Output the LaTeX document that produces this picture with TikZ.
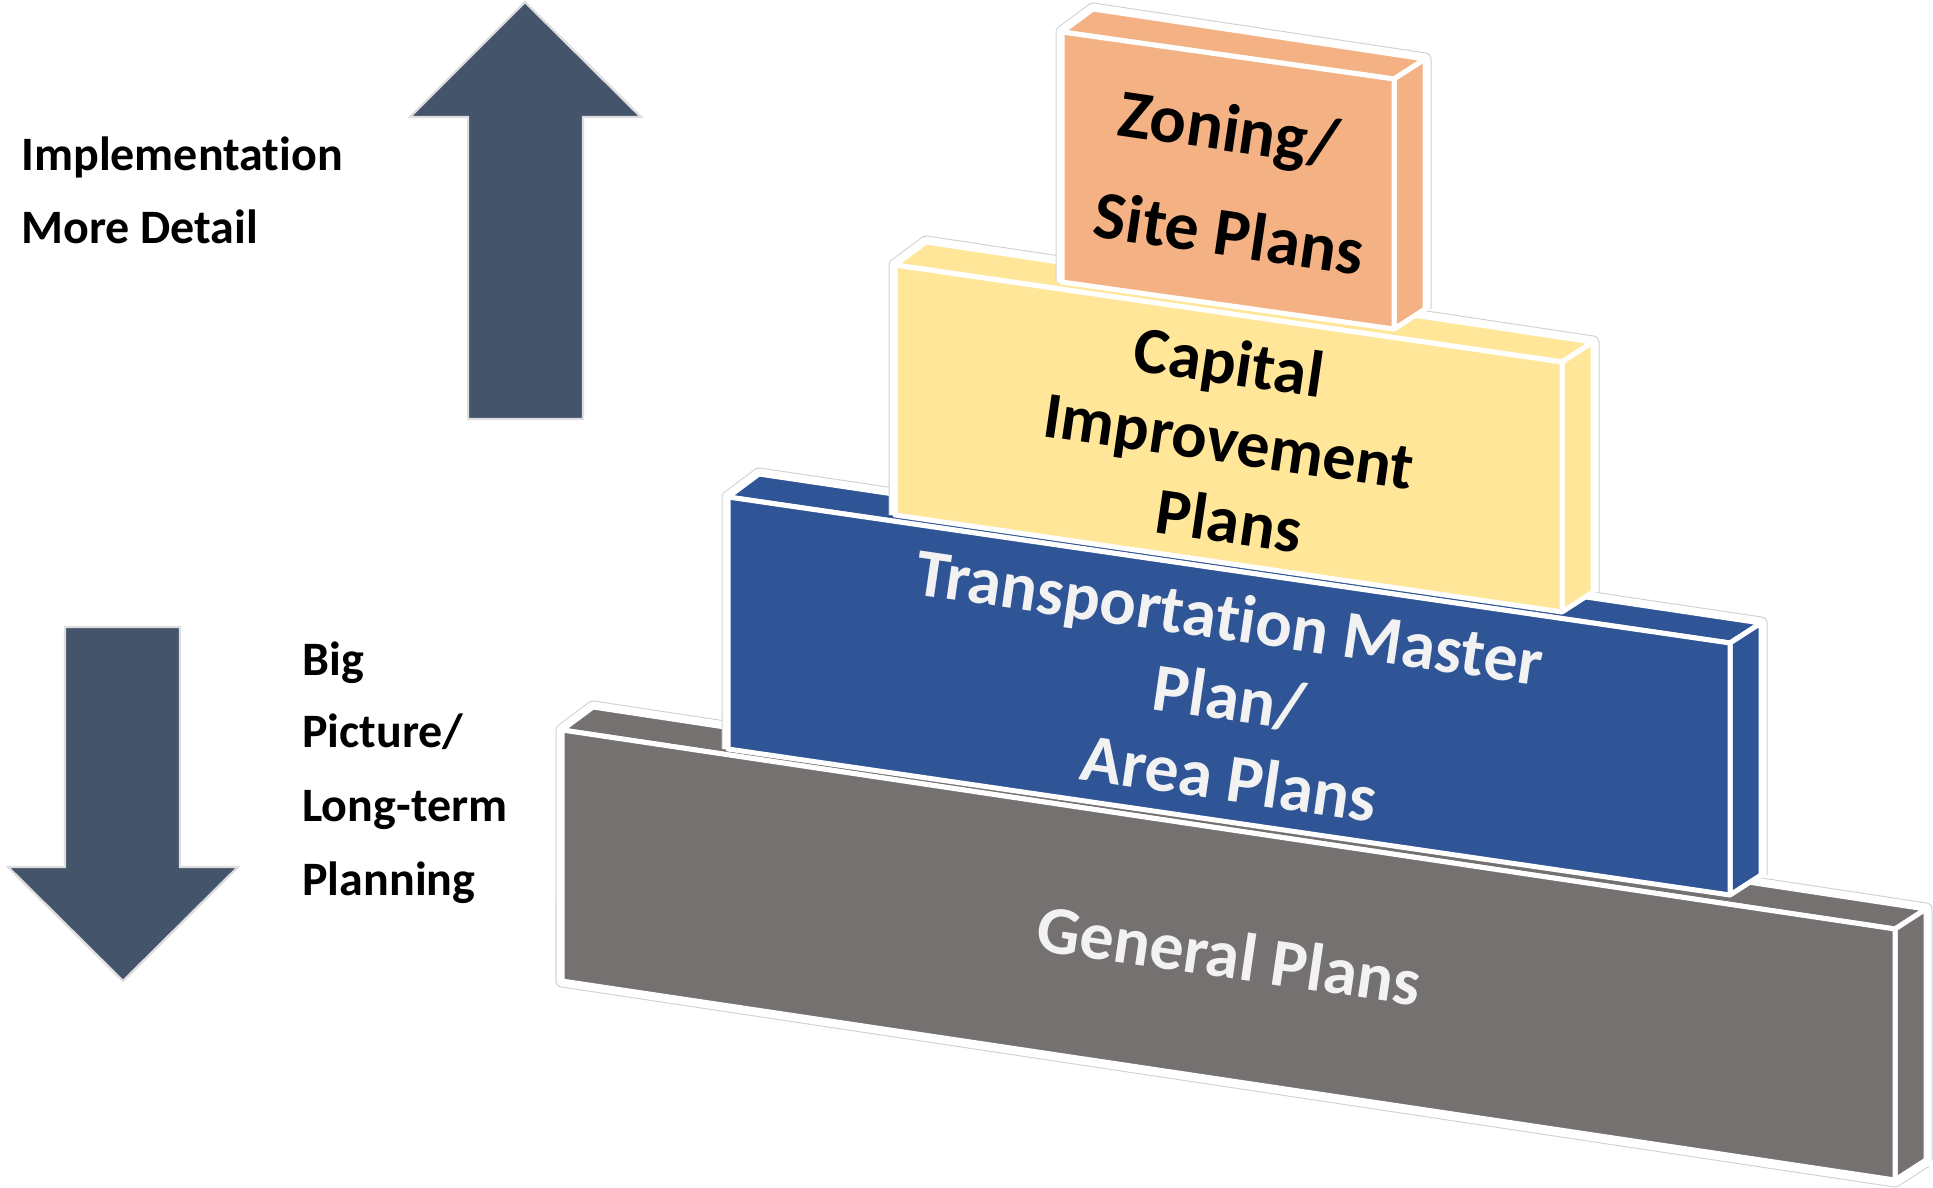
\documentclass[tikz,border=0pt]{standalone}
\usepackage{fontspec}
\setmainfont{Carlito}[Ligatures=NoCommon,RawFeature={-liga;-clig;-dlig}]
\definecolor{cOrange}{HTML}{F4B183}
\definecolor{cYellow}{HTML}{FFE699}
\definecolor{cBlue}{HTML}{2F5597}
\definecolor{cGray}{HTML}{767171}
\definecolor{cArrow}{HTML}{44546A}
\definecolor{cLight}{HTML}{F2F2F2}
\definecolor{cRim}{HTML}{D0D0D0}
\newcommand\slab[6]{% L R TL TR H color
  \draw[rimgray] (#1,#3+#5) -- (#1,#3) -- (#1+31,#3-23) -- (#2+31,#4-20) -- (#2+31,#4-20+#5);
  \draw[rimwhite] (#1,#3+#5) -- (#1,#3) -- (#1+31,#3-23) -- (#2+31,#4-20) -- (#2+31,#4-20+#5);
  \filldraw[face,fill=#6] (#1,#3) -- (#1+31,#3-23) -- (#2+31,#4-20) -- (#2,#4) -- cycle;
  \filldraw[face,fill=#6] (#2,#4) -- (#2+31,#4-20) -- (#2+31,#4-20+#5) -- (#2,#4+#5) -- cycle;
  \filldraw[face,fill=#6] (#1,#3) -- (#2,#4) -- (#2,#4+#5) -- (#1,#3+#5) -- cycle;
}
\begin{document}
\begin{tikzpicture}[x=0.5pt,y=-0.5pt,
  face/.style={draw=white, line width=2.5pt, line join=round},
  rimgray/.style={draw=cRim, line width=6.5pt, line join=round},
  rimwhite/.style={draw=white, line width=5.5pt, line join=round},
  sidetext/.style={font=\fontsize{24}{28}\selectfont\bfseries, anchor=base west, inner sep=0pt},
  blk/.style={anchor=base, inner sep=0pt, rotate=-8.3},
  arrowshape/.style={fill=cArrow, draw=black!13, line width=1.2pt, line join=miter}]
\useasboundingbox (0,0) rectangle (1933,1188);

% arrows
\draw[arrowshape] (525,2) -- (641,117) -- (583,117) -- (583,419) -- (468,419) -- (468,117) -- (410,117) -- cycle;
\draw[arrowshape] (65,627) -- (180,627) -- (180,867) -- (238,867) -- (123,981) -- (8,867) -- (65,867) -- cycle;

% side labels
\node[sidetext] (impl) at (21,170) {Implementation};
\node[sidetext] (more) at (21,243) {More Detail};
\node[sidetext] (big) at (302,675) {Big};
\node[sidetext] (pic) at (302,747) {Picture/};
\node[sidetext] (long) at (302,821) {Long-term};
\node[sidetext] (plan) at (302,895) {Planning};

% general plans slab (with bottom rim)
\draw[rimgray] (1926,1161) -- (1895,1181) -- (562,981) -- (562,900);
\draw[rimwhite] (1926,1161) -- (1895,1181) -- (562,981) -- (562,900);
\slab{562}{1895}{730}{929}{251}{cGray}
\slab{728}{1730}{497}{643}{252}{cBlue}
\slab{895}{1562}{265}{362}{250}{cYellow}
\slab{1062}{1394}{32}{79}{250}{cOrange}

% block texts
\node[blk, font=\fontsize{34}{40}\selectfont\bfseries] (zon) at (1226,151) {Zoning/};
\node[blk, font=\fontsize{34}{40}\selectfont\bfseries] (site) at (1226,256) {Site Plans};
\node[blk, font=\fontsize{33}{38}\selectfont\bfseries] (cap) at (1226,384) {Capital};
\node[blk, font=\fontsize{33}{38}\selectfont\bfseries] (imp) at (1226,463) {Improvement};
\node[blk, font=\fontsize{33}{38}\selectfont\bfseries] (cip) at (1226,543) {Plans};
\node[blk, text=cLight, font=\fontsize{34}{40}\selectfont\bfseries] (tmp) at (1226,640) {Transportation Master};
\node[blk, text=cLight, font=\fontsize{34}{40}\selectfont\bfseries] (pl) at (1226,720) {Plan/};
\node[blk, text=cLight, font=\fontsize{34}{40}\selectfont\bfseries] (area) at (1226,801) {Area Plans};
\node[blk, text=cLight, font=\fontsize{34}{40}\selectfont\bfseries] (gen) at (1226,978) {General Plans};
\end{tikzpicture}
\end{document}
